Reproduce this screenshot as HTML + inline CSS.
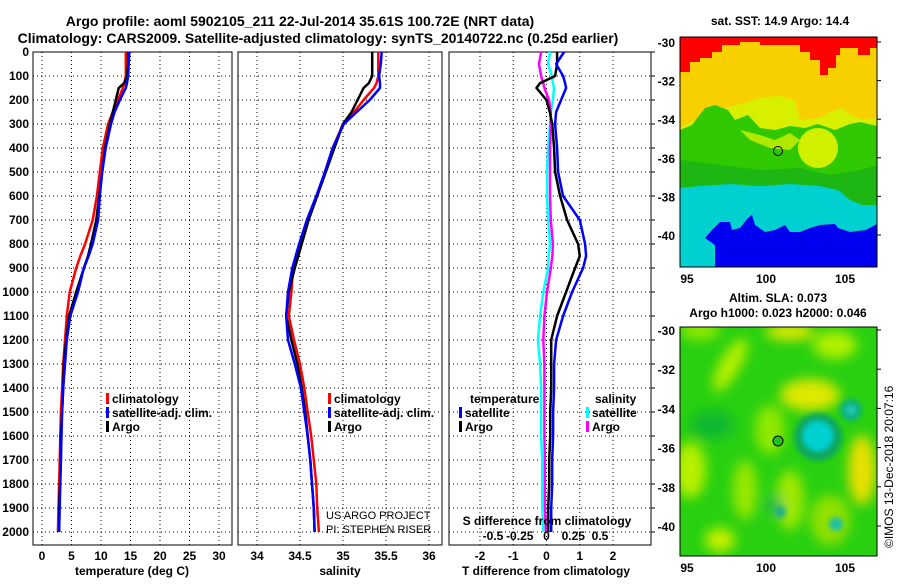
<!DOCTYPE html>
<html><head><meta charset="utf-8"><style>
html,body{margin:0;padding:0;background:#fff;}
svg text{font-family:"Liberation Sans",Arial,sans-serif;font-weight:bold;fill:#000;}
</style></head><body>
<svg id="chart" width="900" height="580" viewBox="0 0 900 580" xmlns="http://www.w3.org/2000/svg">
<defs>
<filter id="blur6" x="-20%" y="-20%" width="140%" height="140%"><feGaussianBlur stdDeviation="6"/></filter>
<filter id="blur3"><feGaussianBlur stdDeviation="2.5"/></filter>
<clipPath id="clipTop"><rect x="680" y="37" width="197" height="230"/></clipPath>
<clipPath id="clipBot"><rect x="680" y="327" width="197" height="229"/></clipPath>
</defs>
<text x="300" y="26" font-size="14" text-anchor="middle">Argo profile: aoml 5902105_211 22-Jul-2014 35.61S 100.72E (NRT data)</text>
<text x="318" y="43" font-size="14" text-anchor="middle">Climatology: CARS2009. Satellite-adjusted climatology: synTS_20140722.nc (0.25d earlier)</text>
<g id="panels"></g>

<!-- Top map: SST -->
<text x="780" y="25" font-size="12" text-anchor="middle">sat. SST: 14.9 Argo: 14.4</text>
<g clip-path="url(#clipTop)">
<rect x="680" y="37" width="197" height="230" fill="#f8d000"/>
<path fill="#ff0000" d="M680,37 H877 V48 L870,48 V55 L858,55 V48 L840,48 V55 L836,55 V68 L828,68 V75 L820,75 V60 L810,60 V52 L800,52 V45 L760,45 V42 L740,42 V45 L722,45 V52 L712,52 V58 L700,58 V62 L690,62 V72 L680,72 Z"/>
<path fill="#d8f000" d="M680,128 L700,118 L720,110 L740,104 L760,98 L780,96 L795,100 L800,120 L820,118 L830,112 L842,108 L850,114 L862,120 L877,118 V160 H680 Z"/>
<path fill="#30c800" d="M680,130 L692,125 L705,108 L715,105 L728,110 L735,120 L748,115 L760,128 L775,130 L790,126 L805,128 L818,124 L835,130 L850,124 L860,122 L877,126 V215 L860,212 L850,205 L830,195 L800,196 L780,190 L750,192 L720,186 L680,190 Z"/>
<circle cx="818" cy="148" r="20" fill="#d0f000"/>
<path fill="#d0f000" d="M740,130 L760,135 L775,140 L790,133 L800,140 L790,150 L770,148 L750,140 Z" opacity="0.8"/>
<path fill="#10a820" d="M680,160 L720,165 L760,170 L800,168 L830,175 L860,170 L877,165 V210 L860,215 L845,205 L820,196 L790,194 L760,190 L720,188 L680,192 Z" opacity="0.55"/>
<path fill="#00d0d0" d="M680,188 L700,186 L730,184 L760,186 L790,184 L820,186 L838,190 L850,200 L862,205 L877,205 V267 H680 Z"/>
<path fill="#0000f0" d="M712,230 L720,222 L730,222 L732,230 L740,228 L748,218 L752,215 L755,225 L765,232 L775,230 L785,225 L790,232 L800,232 L810,228 L820,225 L835,224 L838,228 L850,232 L866,230 L877,224 V267 H715 L715,245 L705,238 Z"/>
<circle cx="778" cy="151" r="4.5" fill="none" stroke="#000" stroke-width="1"/>
</g>
<rect x="680" y="37" width="197" height="230" fill="none" stroke="#000" stroke-width="1"/>
<g id="topMapAxes"></g>

<!-- Bottom map: SLA -->
<text x="778" y="302" font-size="12" text-anchor="middle">Altim. SLA: 0.073</text>
<text x="778" y="317" font-size="12" text-anchor="middle">Argo h1000: 0.023 h2000: 0.046</text>
<g clip-path="url(#clipBot)">
<rect x="680" y="327" width="197" height="229" fill="#28d010"/>
<g filter="url(#blur6)">
<ellipse cx="790" cy="332" rx="25" ry="8" fill="#e8e800"/>
<ellipse cx="730" cy="365" rx="10" ry="30" fill="#b8f000" transform="rotate(30 730 365)"/>
<ellipse cx="810" cy="395" rx="30" ry="16" fill="#e0e800"/>
<ellipse cx="835" cy="345" rx="22" ry="14" fill="#b0f000"/>
<ellipse cx="862" cy="470" rx="14" ry="35" fill="#e8e000"/>
<ellipse cx="690" cy="470" rx="16" ry="28" fill="#b8f000"/>
<ellipse cx="770" cy="430" rx="15" ry="25" fill="#90e800"/>
<ellipse cx="745" cy="490" rx="12" ry="30" fill="#98e800"/>
<ellipse cx="790" cy="500" rx="14" ry="30" fill="#a0e800"/>
<ellipse cx="720" cy="540" rx="15" ry="12" fill="#c8f000"/>
<ellipse cx="830" cy="520" rx="20" ry="25" fill="#90e000"/>
<ellipse cx="700" cy="330" rx="20" ry="10" fill="#90e800"/>
<ellipse cx="712" cy="425" rx="22" ry="14" fill="#10b830"/>
<ellipse cx="775" cy="505" rx="8" ry="8" fill="#10b060"/>
</g>
<g filter="url(#blur3)">
<circle cx="818" cy="437" r="24" fill="#10a860"/>
<circle cx="818" cy="436" r="15" fill="#00d0d0"/>
<circle cx="851" cy="410" r="11" fill="#10b080"/>
<circle cx="851" cy="410" r="5" fill="#20c8b0"/>
<circle cx="836" cy="524" r="7" fill="#20c0a0"/>
<circle cx="780" cy="512" r="6" fill="#20b080"/>
</g>
<circle cx="778" cy="441" r="5" fill="#20c020" stroke="#000" stroke-width="1"/>
</g>
<rect x="680" y="327" width="197" height="229" fill="none" stroke="#000" stroke-width="1"/>
<g id="botMapAxes"></g>
<text transform="translate(893,548) rotate(-90)" font-size="12" font-weight="normal" style="font-weight:normal">©IMOS 13-Dec-2018 20:07:16</text>
</svg>
<script>
const depths = [0,50,100,130,150,200,250,300,400,500,600,700,800,850,900,1000,1100,1200,1300,1400,1500,1600,1700,1800,1900,2000];
const tempArgo = [14.6,14.6,14.4,13.9,13.0,12.5,12.0,11.5,10.7,10.2,9.7,9.2,8.3,7.8,7.1,5.8,4.6,4.1,3.7,3.6,3.4,3.2,3.2,3.05,2.9,2.9];
const tempClim = [14.2,14.2,14.2,14.0,13.7,12.9,12.0,11.2,10.3,9.8,9.3,8.6,7.3,6.5,5.8,4.7,4.2,3.9,3.6,3.4,3.2,3.1,3.0,2.9,2.8,2.7];
const tempSat = [14.8,14.7,14.6,14.4,14.2,13.2,12.3,11.7,10.8,10.2,9.8,9.5,8.6,7.9,7.1,6.1,4.8,4.2,3.9,3.6,3.4,3.3,3.2,3.1,3.0,2.9];
const salArgo = [35.34,35.34,35.34,35.30,35.24,35.17,35.10,35.00,34.90,34.80,34.70,34.60,34.52,34.48,34.44,34.37,34.34,34.40,34.47,34.52,34.56,34.59,34.62,34.64,34.66,34.67];
const salClim = [35.41,35.41,35.41,35.39,35.36,35.24,35.13,35.00,34.88,34.79,34.70,34.58,34.50,34.46,34.42,34.40,34.37,34.43,34.50,34.55,34.59,34.63,34.66,34.69,34.70,34.72];
const salSat = [35.45,35.44,35.42,35.43,35.43,35.31,35.16,35.01,34.88,34.79,34.69,34.58,34.49,34.45,34.41,34.36,34.34,34.36,34.44,34.51,34.55,34.59,34.62,34.64,34.66,34.67];
const dTsat = [0.53,0.29,0.50,0.56,0.59,0.44,0.29,0.26,0.32,0.35,0.50,1.00,1.16,1.19,1.10,0.77,0.50,0.29,0.23,0.23,0.20,0.20,0.17,0.17,0.14,0.14];
const dTargo = [0.32,0.32,0.26,-0.20,-0.30,0.00,0.10,0.17,0.23,0.26,0.41,0.62,0.95,1.00,0.86,0.59,0.32,0.14,0.14,0.14,0.11,0.11,0.08,0.08,0.05,0.05];
const dSsat = [0.033,0.015,0.05,0.06,0.07,0.06,0.04,0.033,0.015,0.005,0.005,0.015,0.033,0.02,0.015,-0.03,-0.06,-0.08,-0.06,-0.05,-0.05,-0.05,-0.04,-0.04,-0.04,-0.03];
const dSargo = [-0.05,-0.07,-0.05,-0.03,-0.02,0.023,0.04,0.04,0.033,0.033,0.033,0.04,0.06,0.055,0.04,0.005,-0.02,-0.03,-0.02,-0.02,-0.02,-0.02,-0.015,-0.015,-0.015,-0.005];
const depthTicks = [0,100,200,300,400,500,600,700,800,900,1000,1100,1200,1300,1400,1500,1600,1700,1800,1900,2000];
const tempTicks = [0,5,10,15,20,25,30];
const salTicks = [34,34.5,35,35.5,36];
const salTickLabels = ["34","34.5","35","35.5","36"];
const dTTicks = [-2,-1,0,1,2];
const dSTicks = [-0.5,-0.25,0,0.25,0.5];
const dSTickLabels = ["-0.5","-0.25","0","0.25","0.5"];
const lonTicks = [95,100,105];
const latTicks = [-30,-32,-34,-36,-38,-40];

const NS="http://www.w3.org/2000/svg";
const svg=document.getElementById('chart');
const g=document.getElementById('panels');
function mk(tag,attrs,parent){const e=document.createElementNS(NS,tag);for(const k in attrs)e.setAttribute(k,attrs[k]);(parent||g).appendChild(e);return e;}
const yTop=52, yBot=545;
const yScale=d=>yTop+d*0.24;

function panel(name,x0,x1,xs,ticks,labels){
  const grp=mk('g',{});
  
  
  depthTicks.forEach(d=>{
    const l=mk('line',{x1:x0,x2:x1,y1:yScale(d),y2:yScale(d),stroke:'#000','stroke-width':1,'stroke-dasharray':'1,3'},grp);
    
    
  });
  ticks.forEach((t,i)=>{
    const x=xs(t);
    const l=mk('line',{x1:x,x2:x,y1:yTop,y2:yBot,stroke:'#000','stroke-width':1,'stroke-dasharray':'1,3'},grp);
    
    
    const tx=mk('text',{x:x,y:yBot+15,'font-size':12,'text-anchor':'middle'},grp);
    tx.textContent=labels?labels[i]:String(t);
    
    
  });
  const fr=mk('rect',{x:x0,y:yTop,width:x1-x0,height:yBot-yTop,fill:'none',stroke:'#000','stroke-width':1},grp);
  
  
  return grp;
}
function line(grp,xs,vals,color,w,name){
  const pts=depths.map((d,i)=>xs(vals[i]).toFixed(1)+','+yScale(d).toFixed(1)).join(' ');
  const p=mk('polyline',{points:pts,fill:'none',stroke:color,'stroke-width':w||2.5,'stroke-linejoin':'round'},grp);
  
  
}
function txt(grp,x,y,s,name,size,anchor){
  const t=mk('text',{x:x,y:y,'font-size':size||12,'text-anchor':anchor||'start'},grp);
  t.textContent=s;
  
  
  return t;
}
function legendEntry(grp,x,y,color,label){
  const r=mk('rect',{x:x,y:y-10,width:3,height:11,fill:color},grp);
  
  
  txt(grp,x+6,y,label,'legend-entry');
}

// Panel 1 temperature
const xT=v=>42+v*5.9;
const p1=panel('temperature-panel',33,232,xT,tempTicks);
depthTicks.forEach(d=>{txt(p1,29,yScale(d)+4,String(d),'y-tick-label',12,'end');});
line(p1,xT,tempClim,'#ff0000',2.5,'temp-climatology-line');
line(p1,xT,tempArgo,'#000',2.5,'temp-argo-line');
line(p1,xT,tempSat,'#0000ff',2.5,'temp-satellite-line');
txt(p1,132,575,'temperature (deg C)','x-axis-title',12,'middle');
legendEntry(p1,106,403,'#ff0000','climatology');
legendEntry(p1,106,417,'#0000ff','satellite-adj. clim.');
legendEntry(p1,106,431,'#000','Argo');

// Panel 2 salinity
const xS=v=>257+(v-34)*86;
const p2=panel('salinity-panel',238,442,xS,salTicks,salTickLabels);
line(p2,xS,salClim,'#ff0000',2.5,'sal-climatology-line');
line(p2,xS,salArgo,'#000',2.5,'sal-argo-line');
line(p2,xS,salSat,'#0000ff',2.5,'sal-satellite-line');
txt(p2,340,575,'salinity','x-axis-title',12,'middle');
legendEntry(p2,328,403,'#ff0000','climatology');
legendEntry(p2,328,417,'#0000ff','satellite-adj. clim.');
legendEntry(p2,328,431,'#000','Argo');
const c1=txt(p2,326,519,'US ARGO PROJECT','credit-project',11);c1.setAttribute('font-weight','normal');c1.style.fontWeight='normal';
const c2=txt(p2,326,533,'PI: STEPHEN RISER','credit-pi',11);c2.setAttribute('font-weight','normal');c2.style.fontWeight='normal';

// Panel 3 differences
const xD=v=>546.5+v*33.25;
const xDS=v=>546.5+v*107;
const p3=panel('difference-panel',449,651,xD,dTTicks);
depthTicks.forEach(d=>{
  const l=mk('line',{x1:651,x2:655,y1:yScale(d),y2:yScale(d),stroke:'#000'},p3);
  
  
});
line(p3,xDS,dSsat,'#00ffff',2.5,'sdiff-satellite-line');
line(p3,xDS,dSargo,'#ff00ff',2.5,'sdiff-argo-line');
line(p3,xD,dTargo,'#000',2.5,'tdiff-argo-line');
line(p3,xD,dTsat,'#0000ff',2.5,'tdiff-satellite-line');
txt(p3,546,575,'T difference from climatology','x-axis-title',12,'middle');
txt(p3,547,525,'S difference from climatology','s-axis-title',12,'middle');
dSTicks.forEach((t,i)=>txt(p3,xDS(t),540,dSTickLabels[i],'s-tick-label',12,'middle'));
txt(p3,470,403,'temperature','legend-title');
txt(p3,595,403,'salinity','legend-title');
legendEntry(p3,459,417,'#0000ff','satellite');
legendEntry(p3,459,431,'#000','Argo');
legendEntry(p3,586,417,'#00ffff','satellite');
legendEntry(p3,586,431,'#ff00ff','Argo');

// Map axes
function mapAxes(gid,yLat,yB){
  const grp=document.getElementById(gid);
  latTicks.forEach(la=>{
    const y=yLat(la);
    txt(grp,675,y+5,String(la),'lat-tick-label',12,'end');
    const l=mk('line',{x1:877,x2:881,y1:y,y2:y,stroke:'#000'},grp);
    
    
  });
  lonTicks.forEach(lo=>{
    const x=687+(lo-95)*15.8;
    txt(grp,x,yB+16,String(lo),'lon-tick-label',12,'middle');
  });
}
mapAxes('topMapAxes',la=>42+(-30-la)*19.3,267);
mapAxes('botMapAxes',la=>330+(-30-la)*19.6,556);
</script>
</body></html>
